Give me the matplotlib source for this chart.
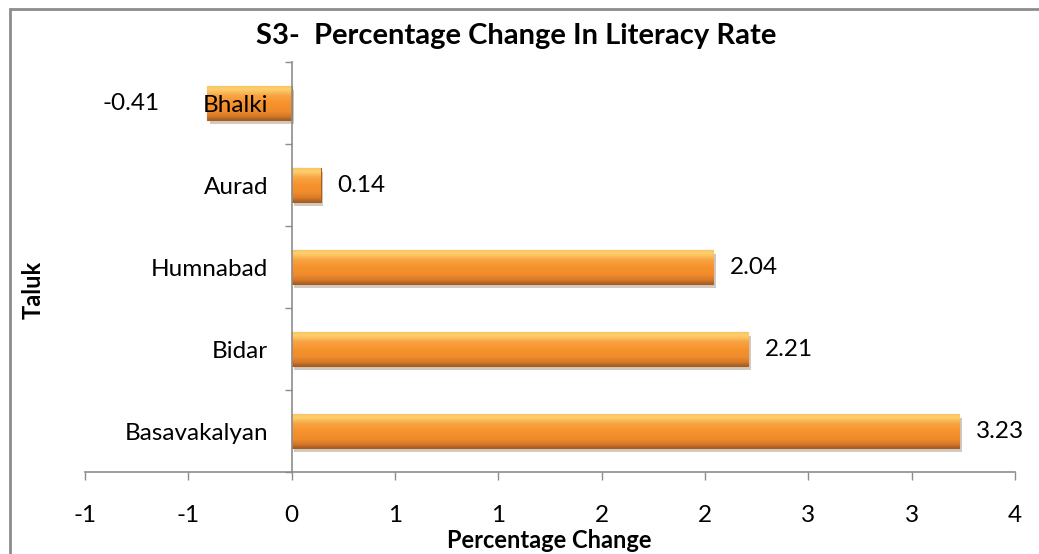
import numpy as np
import matplotlib
matplotlib.use('Agg')
import matplotlib.pyplot as plt
import matplotlib.patches as mpatches
from matplotlib import patheffects as pe
from matplotlib.colors import LinearSegmentedColormap
from matplotlib.ticker import FuncFormatter, MultipleLocator

# data (bottom to top, as in the chart)
taluks = ['Basavakalyan', 'Bidar', 'Humnabad', 'Aurad', 'Bhalki']
change = [3.23, 2.21, 2.04, 0.14, -0.41]

plt.rcParams['font.family'] = ['Lato', 'DejaVu Sans']

fig = plt.figure(figsize=(10.39, 5.54), dpi=100)
ax = fig.add_axes([85 / 1039, 82 / 554, 930 / 1039, 410 / 554])

ypos = np.arange(len(taluks))
bars = ax.barh(ypos, change, height=0.42, color='#F7932E', edgecolor='#A85E20',
               linewidth=0.8, zorder=2,
               path_effects=[pe.SimplePatchShadow(offset=(2, -3), alpha=0.25), pe.Normal()])

# bevel-like vertical gradient on each bar (light on top, dark at bottom)
cmap = LinearSegmentedColormap.from_list(
    'bevel', [(0.0, '#FBC05E'), (0.12, '#FDD06E'), (0.3, '#F9A443'), (0.5, '#F7932E'),
              (0.75, '#EF8B2A'), (0.9, '#D57828'), (1.0, '#A85E20')])
grad = np.linspace(0, 1, 64).reshape(-1, 1)
for b in bars:
    x0, y0 = b.get_x(), b.get_y()
    w, h = b.get_width(), b.get_height()
    im = ax.imshow(grad, cmap=cmap, aspect='auto', zorder=3, origin='upper',
                   extent=[x0, x0 + w, y0, y0 + h], interpolation='bicubic')
    im.set_clip_path(b)

ax.set_xlim(-1.0, 3.5)
ax.set_ylim(-0.5, len(taluks) - 0.5)
ax.xaxis.set_major_locator(MultipleLocator(0.5))


def excel_round(v, pos):
    r = np.sign(v) * np.floor(abs(v) + 0.5 + 1e-9)
    return '%d' % r if r != 0 else '0'


ax.xaxis.set_major_formatter(FuncFormatter(excel_round))

# category labels next to the zero line
ax.set_yticks(ypos)
ax.set_yticklabels(taluks)
ax.set_yticks(np.arange(-0.5, len(taluks), 1.0), minor=True)
ax.tick_params(axis='y', which='major', length=0, pad=17, labelsize=17.5)
ax.tick_params(axis='y', which='minor', length=5, color='#8C8C8C', width=1)
ax.tick_params(axis='x', length=6, color='#8C8C8C', width=1, pad=18, labelsize=17.5)
ax.yaxis.set_zorder(5)

ax.spines['left'].set_position(('data', 0))
ax.spines['left'].set_zorder(4)
for s in ['top', 'right']:
    ax.spines[s].set_visible(False)
for s in ['left', 'bottom']:
    ax.spines[s].set_color('#8C8C8C')
    ax.spines[s].set_linewidth(1.2)

# data labels
for v, y in zip(change, ypos):
    if v >= 0:
        ax.annotate('%.2f' % v, (v, y), xytext=(12, 0), textcoords='offset points',
                    ha='left', va='center', fontsize=17.5)
    else:
        ax.annotate('%.2f' % v, (v, y), xytext=(-34, 0), textcoords='offset points',
                    ha='right', va='center', fontsize=17.5)

fig.text(0.497, 0.935, 'S3-  Percentage Change In Literacy Rate', ha='center', va='center',
         fontsize=21, fontweight='bold')
fig.text(0.529, 0.024, 'Percentage Change', ha='center', va='center', fontsize=17, fontweight='bold')
fig.text(0.032, 0.477, 'Taluk', ha='center', va='center', rotation=90, fontsize=17, fontweight='bold')

# chart frame
fig.add_artist(mpatches.Rectangle((10 / 1039, -0.05), 1.2, (554 - 9) / 554 + 0.05,
                                  transform=fig.transFigure, fill=False,
                                  edgecolor='#8C8C8C', linewidth=2))

fig.savefig('out.png', dpi=100)
